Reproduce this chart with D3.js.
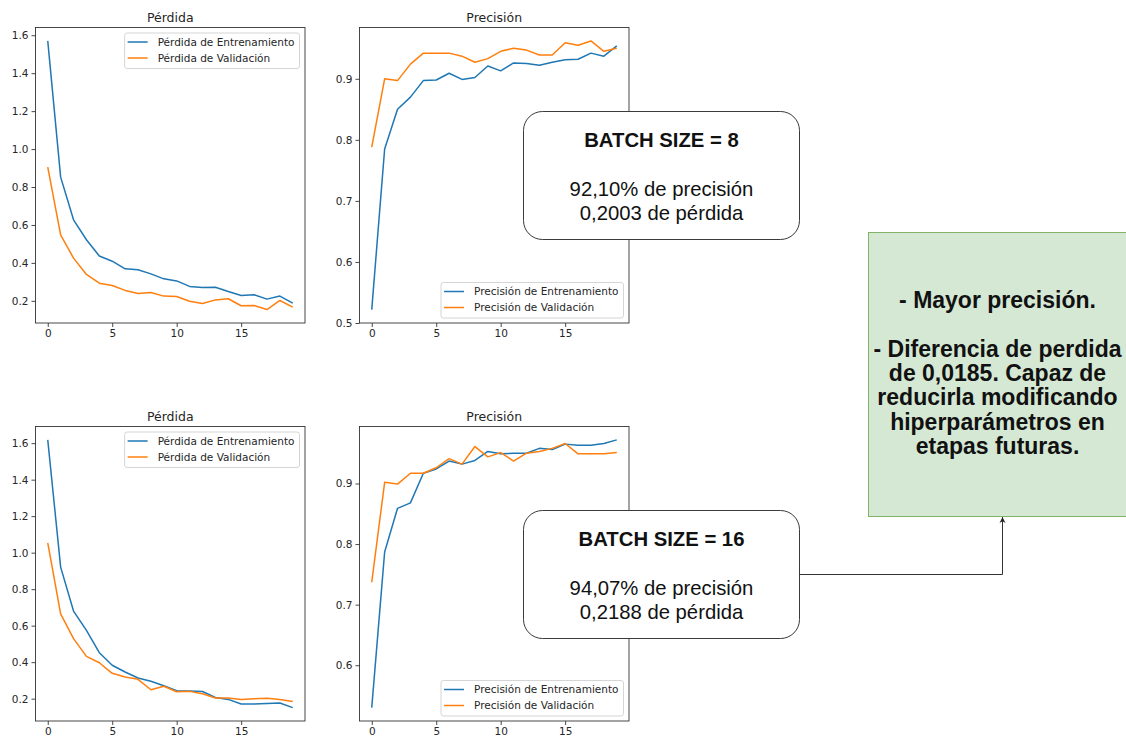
<!DOCTYPE html>
<html lang="es">
<head>
  <meta charset="UTF-8">
  <script src="https://d3js.org/d3.v7.min.js"></script>
  <title>Batch size</title>
  <style>
    body { margin: 0; background: #fff; }
    svg { display: block; }
  </style>
</head>
<body>
  <script>
    // ---- data ----
    const epochs = [0,1,2,3,4,5,6,7,8,9,10,11,12,13,14,15,16,17,18,19]

    const loss8Train = [1.570,0.852,0.627,0.522,0.436,0.409,0.369,0.364,0.342,0.316,0.305,0.276,0.270,0.272,0.249,0.228,0.232,0.209,0.225,0.188]
    const loss8Val   = [0.905,0.548,0.425,0.339,0.293,0.281,0.255,0.239,0.244,0.225,0.223,0.198,0.186,0.205,0.211,0.174,0.175,0.154,0.202,0.167]
    const acc8Train  = [0.522,0.785,0.850,0.870,0.897,0.898,0.909,0.899,0.902,0.921,0.913,0.926,0.925,0.922,0.927,0.931,0.932,0.942,0.937,0.954]
    const acc8Val    = [0.788,0.900,0.897,0.924,0.942,0.942,0.942,0.937,0.927,0.933,0.945,0.950,0.947,0.939,0.939,0.959,0.955,0.962,0.945,0.950]

    const loss16Train = [1.618,0.921,0.680,0.574,0.452,0.383,0.346,0.313,0.295,0.271,0.244,0.242,0.239,0.207,0.196,0.171,0.171,0.173,0.176,0.151]
    const loss16Val   = [1.054,0.665,0.529,0.432,0.397,0.339,0.319,0.306,0.249,0.268,0.238,0.240,0.227,0.204,0.204,0.196,0.200,0.202,0.195,0.185]
    const acc16Train  = [0.530,0.787,0.859,0.868,0.917,0.924,0.937,0.932,0.938,0.953,0.949,0.950,0.950,0.958,0.956,0.965,0.963,0.963,0.966,0.972]
    const acc16Val    = [0.737,0.902,0.899,0.917,0.917,0.926,0.941,0.932,0.961,0.944,0.951,0.937,0.950,0.953,0.958,0.966,0.949,0.949,0.949,0.951]

    const xTicks = [0, 5, 10, 15]
    const lossTicks = [0.2, 0.4, 0.6, 0.8, 1.0, 1.2, 1.4, 1.6]
    const acc8Ticks = [0.5, 0.6, 0.7, 0.8, 0.9]
    const acc16Ticks = [0.6, 0.7, 0.8, 0.9]

    const lossNames = ["Pérdida de Entrenamiento", "Pérdida de Validación"]
    const accNames = ["Precisión de Entrenamiento", "Precisión de Validación"]
    const colors = ["#1f77b4", "#ff7f0e"]

    const box8Lines = ["BATCH SIZE = 8", "", "92,10% de precisión", "0,2003 de pérdida"]
    const box16Lines = ["BATCH SIZE = 16", "", "94,07% de precisión", "0,2188 de pérdida"]
    const noteLines = ["- Mayor precisión.", "", "- Diferencia de perdida", "de 0,0185. Capaz de",
                       "reducirla modificando", "hiperparámetros en", "etapas futuras."]

    const svg = d3.select("body").append("svg")
        .attr("width", 1126)
        .attr("height", 737)

    // matplotlib style auto limits: 5% margin each side
    function padded(values) {
      const [lo, hi] = d3.extent(values)
      const m = (hi - lo) * 0.05
      return [lo - m, hi + m]
    }

    function panel(p) {
      const g = svg.append("g").attr("transform", `translate(${p.x0},${p.y0})`)
      const x = d3.scaleLinear().domain(padded(epochs)).range([0, p.w])
      const y = d3.scaleLinear().domain(padded(p.series.flat())).range([p.h, 0])

      const line = d3.line().x((d, i) => x(epochs[i])).y(d => y(d))
      p.series.forEach((s, i) => {
        g.append("path")
            .datum(s)
            .attr("d", line)
            .attr("fill", "none")
            .attr("stroke", colors[i])
            .attr("stroke-width", 1.5)
            .attr("stroke-linejoin", "round")
      })

      const yAxis = g.append("g")
          .call(d3.axisLeft(y).tickValues(p.yTicks).tickFormat(d3.format(".1f")).tickSize(4).tickPadding(3))
      const xAxis = g.append("g")
          .attr("transform", `translate(0,${p.h})`)
          .call(d3.axisBottom(x).tickValues(xTicks).tickFormat(d3.format("d")).tickSize(4).tickPadding(3))
      for (const a of [yAxis, xAxis]) {
        a.select(".domain").remove()
        a.attr("font-family", "DejaVu Sans").attr("font-size", 10.5)
        a.selectAll("line").attr("stroke", "#333").attr("stroke-width", 0.9)
        a.selectAll("text").attr("fill", "#262626")
      }

      g.append("rect")
          .attr("x", 0).attr("y", 0)
          .attr("width", p.w).attr("height", p.h)
          .attr("fill", "none")
          .attr("stroke", "#333")
          .attr("stroke-width", 0.9)

      g.append("text")
          .attr("x", p.w / 2)
          .attr("y", -6)
          .attr("text-anchor", "middle")
          .attr("font-family", "DejaVu Sans")
          .attr("font-size", 12.5)
          .attr("fill", "#262626")
          .text(p.title)

      // legend
      const lg = g.append("g")
      const frame = lg.append("rect")
      const items = p.names.map((n, i) => {
        lg.append("line")
            .attr("x1", 3).attr("x2", 23)
            .attr("y1", 9 + i * 16).attr("y2", 9 + i * 16)
            .attr("stroke", colors[i]).attr("stroke-width", 1.5)
        return lg.append("text")
            .attr("x", 33).attr("y", 12.8 + i * 16)
            .attr("font-family", "DejaVu Sans")
            .attr("font-size", 10.5)
            .attr("fill", "#262626")
            .text(n)
      })
      const lw = d3.max(items, t => t.node().getComputedTextLength()) + 38
      const lh = 35.5
      frame.attr("width", lw).attr("height", lh)
          .attr("rx", 2.5)
          .attr("fill", "#fff").attr("fill-opacity", 0.8)
          .attr("stroke", "#d0d0d0").attr("stroke-width", 0.9)
      const lx = p.w - 5.5 - lw
      const ly = p.legend === "top" ? 5.5 : p.h - 5 - lh
      lg.attr("transform", `translate(${lx},${ly})`)
    }

    panel({x0: 35.5, y0: 27.5, w: 269.5, h: 295.5, title: "Pérdida", series: [loss8Train, loss8Val], names: lossNames, yTicks: lossTicks, legend: "top"})
    panel({x0: 359.5, y0: 27.5, w: 269.5, h: 295.5, title: "Precisión", series: [acc8Train, acc8Val], names: accNames, yTicks: acc8Ticks, legend: "bottom"})
    panel({x0: 35.5, y0: 426.5, w: 269.5, h: 294.5, title: "Pérdida", series: [loss16Train, loss16Val], names: lossNames, yTicks: lossTicks, legend: "top"})
    panel({x0: 359.5, y0: 426.5, w: 269.5, h: 294.5, title: "Precisión", series: [acc16Train, acc16Val], names: accNames, yTicks: acc16Ticks, legend: "bottom"})

    // annotation boxes
    function resultBox(x, y, lines) {
      const g = svg.append("g").attr("transform", `translate(${x},${y})`)
      g.append("rect")
          .attr("width", 276).attr("height", 128)
          .attr("rx", 19)
          .attr("fill", "#fff")
          .attr("stroke", "#3a3a3a")
          .attr("stroke-width", 1)
      lines.forEach((t, i) => {
        g.append("text")
            .attr("x", 138)
            .attr("y", 35.5 + i * 24.3)
            .attr("text-anchor", "middle")
            .attr("font-family", "Liberation Sans, Arial, sans-serif")
            .attr("font-size", 20.3)
            .attr("font-weight", i === 0 ? "bold" : "normal")
            .attr("fill", "#111")
            .text(t)
      })
    }
    resultBox(523.5, 111.5, box8Lines)
    resultBox(523.5, 510.5, box16Lines)

    // conclusions box
    const note = svg.append("g")
    note.append("rect")
        .attr("x", 868.5).attr("y", 232.5)
        .attr("width", 258).attr("height", 284)
        .attr("fill", "#d5e8d4")
        .attr("stroke", "#82b366")
        .attr("stroke-width", 1)
    noteLines.forEach((t, i) => {
      note.append("text")
          .attr("x", 997.5)
          .attr("y", 308 + i * 24.3)
          .attr("text-anchor", "middle")
          .attr("font-family", "Liberation Sans, Arial, sans-serif")
          .attr("font-size", 23)
          .attr("font-weight", "bold")
          .attr("fill", "#111")
          .text(t)
    })

    // connector with arrow
    svg.append("defs").append("marker")
        .attr("id", "arrow")
        .attr("viewBox", "0 0 10 10")
        .attr("refX", 10).attr("refY", 5)
        .attr("markerWidth", 6).attr("markerHeight", 7)
        .attr("markerUnits", "userSpaceOnUse")
        .attr("orient", "auto")
        .append("path")
        .attr("d", "M0,0 L10,5 L0,10 L3,5 Z")
        .attr("fill", "#222")
    svg.append("path")
        .attr("d", "M799.5,574.5 H1002.5 V517")
        .attr("fill", "none")
        .attr("stroke", "#333")
        .attr("stroke-width", 1)
        .attr("marker-end", "url(#arrow)")
  </script>
</body>
</html>
